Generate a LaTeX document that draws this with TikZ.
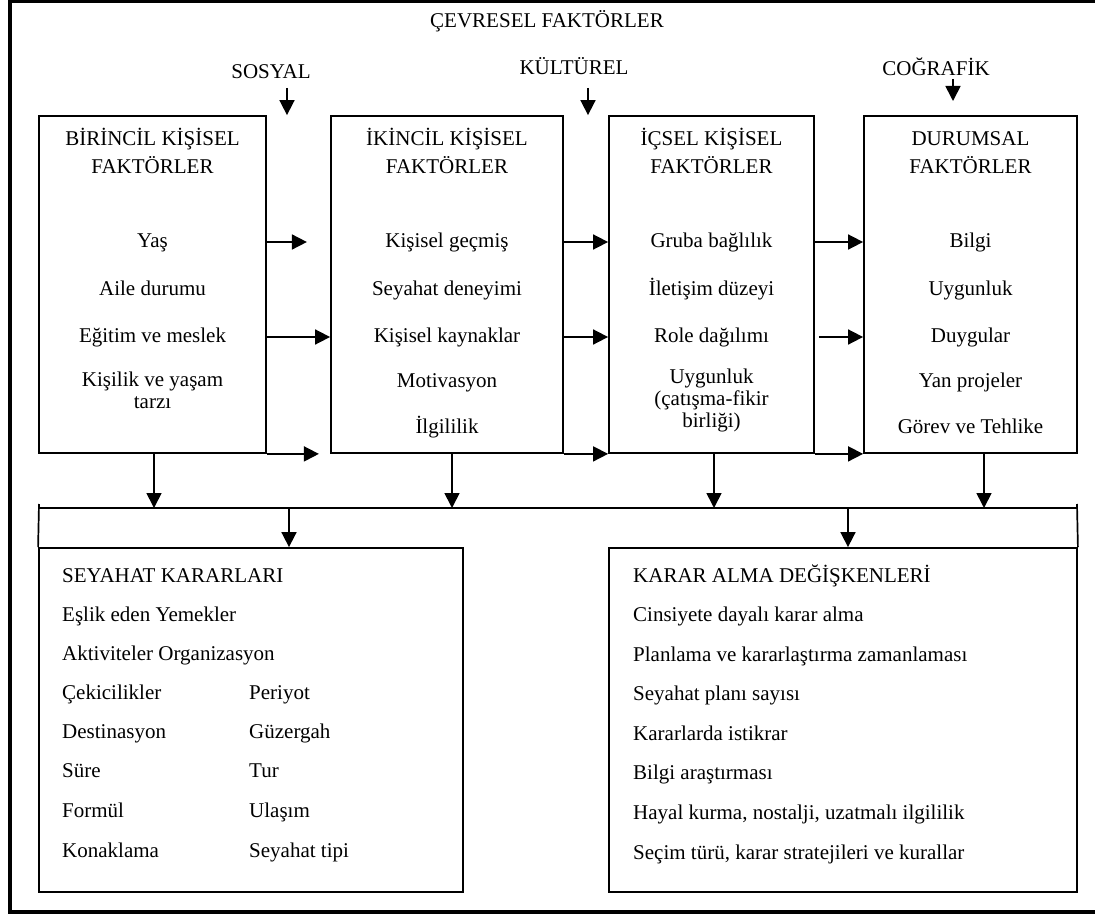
\documentclass[tikz,border=0pt]{standalone}
\usepackage{fontspec}
\setmainfont{Liberation Serif}
\usetikzlibrary{arrows.meta}
\begin{document}
\begin{tikzpicture}[x=1pt,y=-1pt,
  every node/.style={font=\fontsize{21}{24}\selectfont, inner sep=0pt,
    text height=14.5pt, text depth=4.5pt},
  panel/.style={draw, line width=1.8pt, text height=, text depth=},
  wire/.style={line width=1.7pt},
  arr/.style={line width=1.7pt, -{Triangle[length=15pt,width=15pt]}},
  item/.style={anchor=west}]
\useasboundingbox (0,0) rectangle (1095,915);

% outer frame (open on the right)
\draw[line width=3.5pt] (1095,1.75) -- (10,1.75) -- (10,912) -- (1095,912);

% environmental factors
\node (cev) at (547,23) {ÇEVRESEL FAKTÖRLER};
\node (sos) at (271,74) {SOSYAL};
\node (kul) at (574,70) {KÜLTÜREL};
\node (cog) at (936,71) {COĞRAFİK};

% factor panels
\node[panel, minimum width=227pt, minimum height=337pt] (b1) at (152.5,284.5) {};
\node[panel, minimum width=232pt, minimum height=337pt] (b2) at (447,284.5) {};
\node[panel, minimum width=205pt, minimum height=337pt] (b3) at (711.5,284.5) {};
\node[panel, minimum width=213pt, minimum height=337pt] (b4) at (970.5,284.5) {};

% decision panels
\node[panel, minimum width=424pt, minimum height=344pt] (sey) at (251,720) {};
\node[panel, minimum width=468pt, minimum height=344pt] (kar) at (843,720) {};

% panel 1
\node (b1h1) at (152.5,141) {BİRİNCİL KİŞİSEL};
\node (b1h2) at (152.5,169) {FAKTÖRLER};
\node (yas) at (152.5,242) {Yaş};
\node (aile) at (152.5,290) {Aile durumu};
\node (egt) at (152.5,337) {Eğitim ve meslek};
\node (kis1) at (152.5,381) {Kişilik ve yaşam};
\node (kis2) at (152.5,403) {tarzı};

% panel 2
\node (b2h1) at (447,141) {İKİNCİL KİŞİSEL};
\node (b2h2) at (447,169) {FAKTÖRLER};
\node (gec) at (447,242) {Kişisel geçmiş};
\node (den) at (447,290) {Seyahat deneyimi};
\node (kay) at (447,337) {Kişisel kaynaklar};
\node (mot) at (447,382) {Motivasyon};
\node (ilg) at (447,428) {İlgililik};

% panel 3
\node (b3h1) at (711.5,141) {İÇSEL KİŞİSEL};
\node (b3h2) at (711.5,169) {FAKTÖRLER};
\node (gru) at (711.5,242) {Gruba bağlılık};
\node (ile) at (711.5,290) {İletişim düzeyi};
\node (rol) at (711.5,337) {Role dağılımı};
\node (uyg1) at (711.5,378) {Uygunluk};
\node (uyg2) at (711.5,400) {(çatışma-fikir};
\node (uyg3) at (711.5,422) {birliği)};

% panel 4
\node (b4h1) at (970.5,141) {DURUMSAL};
\node (b4h2) at (970.5,169) {FAKTÖRLER};
\node (bil) at (970.5,242) {Bilgi};
\node (uyg) at (970.5,290) {Uygunluk};
\node (duy) at (970.5,337) {Duygular};
\node (yan) at (970.5,382) {Yan projeler};
\node (gor) at (970.5,428) {Görev ve Tehlike};

% travel decisions
\node[item] (seyh) at (62,577) {SEYAHAT KARARLARI};
\node[item] (s1) at (62,616) {Eşlik eden Yemekler};
\node[item] (s2) at (62,655) {Aktiviteler Organizasyon};
\node[item] (s3) at (62,694) {Çekicilikler};
\node[item] (s4) at (62,733) {Destinasyon};
\node[item] (s5) at (62,772) {Süre};
\node[item] (s6) at (62,812) {Formül};
\node[item] (s7) at (62,852) {Konaklama};
\node[item] (t3) at (249,694) {Periyot};
\node[item] (t4) at (249,733) {Güzergah};
\node[item] (t5) at (249,772) {Tur};
\node[item] (t6) at (249,812) {Ulaşım};
\node[item] (t7) at (249,852) {Seyahat tipi};

% decision-making variables
\node[item] (karh) at (633,577) {KARAR ALMA DEĞİŞKENLERİ};
\node[item] (k1) at (633,616) {Cinsiyete dayalı karar alma};
\node[item] (k2) at (633,656) {Planlama ve kararlaştırma zamanlaması};
\node[item] (k3) at (633,695) {Seyahat planı sayısı};
\node[item] (k4) at (633,735) {Kararlarda istikrar};
\node[item] (k5) at (633,774) {Bilgi araştırması};
\node[item] (k6) at (633,814) {Hayal kurma, nostalji, uzatmalı ilgililik};
\node[item] (k7) at (633,854) {Seçim türü, karar stratejileri ve kurallar};

% environmental influences
\coordinate (sosA) at (287,88);
\coordinate (kulA) at (588,88);
\coordinate (cogA) at (953,79);
\coordinate (cogB) at (953,101);
\draw[arr] (sosA) -- (sosA |- b1.north);
\draw[arr] (kulA) -- (kulA |- b2.north);
\draw[arr] (cogA) -- (cogB);

% links between factor panels
\draw[arr] (b1.east |- yas) -- ++(40,0);
\draw[arr] (b1.east |- egt) -- (b2.west |- egt);
\draw[arr] (b1.south east) -- ++(52,0);
\draw[arr] (b2.east |- gec) -- (b3.west |- gec);
\draw[arr] (b2.east |- kay) -- (b3.west |- kay);
\draw[arr] (b2.south east) -- (b3.south west);
\draw[arr] (b3.east |- gru) -- (b4.west |- gru);
\draw[arr] ([xshift=4pt]b3.east |- rol) -- (b4.west |- rol);
\draw[arr] (b3.south east) -- (b4.south west);

% collecting bus
\coordinate (bus) at (0,508);
\coordinate (busL) at (39,504);
\coordinate (busR) at (1077,504);
\draw[wire] (sey.north west) -- (busL);
\draw[wire] (kar.north east) -- (busR);
\draw[wire] (sey.north west |- bus) -- (kar.north east |- bus);

\coordinate (d1) at ([xshift=1.5pt]b1.south);
\coordinate (d2) at ([xshift=5pt]b2.south);
\coordinate (d3) at ([xshift=2.5pt]b3.south);
\coordinate (d4) at ([xshift=13.5pt]b4.south);
\draw[arr] (d1) -- (d1 |- bus);
\draw[arr] (d2) -- (d2 |- bus);
\draw[arr] (d3) -- (d3 |- bus);
\draw[arr] (d4) -- (d4 |- bus);

\coordinate (e1) at ([xshift=38pt]sey.north);
\coordinate (e2) at ([xshift=5pt]kar.north);
\draw[arr] (e1 |- bus) -- (e1);
\draw[arr] (e2 |- bus) -- (e2);
\end{tikzpicture}
\end{document}
